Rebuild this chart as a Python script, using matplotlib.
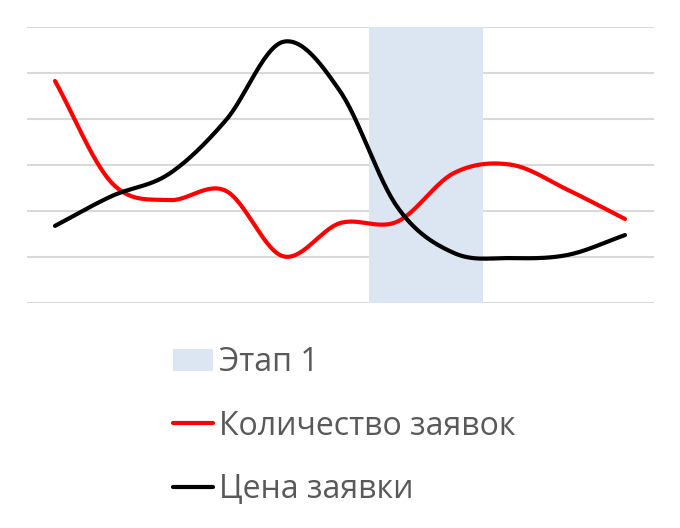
import numpy as np
import matplotlib
matplotlib.use("Agg")
import matplotlib.pyplot as plt

# Данные графика (11 периодов, ось без подписей)
periods = list(range(11))
kolichestvo = [4.82, 2.60, 2.23, 2.43, 1.01, 1.73, 1.76, 2.82, 3.00, 2.45, 1.82]
cena = [1.67, 2.32, 2.80, 3.97, 5.67, 4.60, 2.09, 1.08, 0.97, 1.04, 1.47]
etap1 = [0, 0, 0, 0, 0, 0, 6, 6, 0, 0, 0]
y_max = 6

labels = ["Этап 1", "Количество заявок", "Цена заявки"]


def sglazhivanie(x, y, n=30):
    """Сглаженная линия как в Excel (Catmull-Rom через все точки)."""
    x = np.asarray(x, float)
    y = np.asarray(y, float)
    px = np.concatenate([[2 * x[0] - x[1]], x, [2 * x[-1] - x[-2]]])
    py = np.concatenate([[2 * y[0] - y[1]], y, [2 * y[-1] - y[-2]]])
    xs, ys = [], []
    t = np.linspace(0, 1, n)
    for i in range(1, len(px) - 2):
        p0, p1, p2, p3 = py[i - 1], py[i], py[i + 1], py[i + 2]
        q0, q1, q2, q3 = px[i - 1], px[i], px[i + 1], px[i + 2]
        for (a0, a1, a2, a3, out) in ((q0, q1, q2, q3, xs), (p0, p1, p2, p3, ys)):
            out.extend(0.5 * ((2 * a1) + (-a0 + a2) * t
                              + (2 * a0 - 5 * a1 + 4 * a2 - a3) * t ** 2
                              + (-a0 + 3 * a1 - 3 * a2 + a3) * t ** 3))
    return np.array(xs), np.array(ys)


fig = plt.figure(figsize=(6.8, 5.28), dpi=100)
ax = fig.add_axes([26.5 / 680, 1 - 302.7 / 528, 627 / 680, 276 / 528])

bars = ax.bar(periods, etap1, width=1.0, color="#dce6f2", zorder=1, label=labels[0])

xr, yr = sglazhivanie(periods, kolichestvo)
line_r, = ax.plot(xr, yr, color="#ff0000", lw=3, solid_capstyle="round", zorder=3, label=labels[1])
xb, yb = sglazhivanie(periods, cena)
line_b, = ax.plot(xb, yb, color="#000000", lw=3, solid_capstyle="round", zorder=4, label=labels[2])

ax.set_xlim(-0.5, 10.5)
ax.set_ylim(0, y_max)
ax.set_yticks(range(0, y_max + 1))
ax.yaxis.grid(True, color="#d9d9d9", lw=1.5, zorder=0)
ax.set_axisbelow(True)
ax.tick_params(left=False, bottom=False, labelleft=False, labelbottom=False)
for s in ax.spines.values():
    s.set_visible(False)

leg = fig.legend(handles=[bars, line_r, line_b], labels=labels,
                 loc="upper left", bbox_to_anchor=(172.7 / 680, 1 - 346 / 528),
                 frameon=False, borderpad=0, borderaxespad=0,
                 prop={"family": "Open Sans", "size": 23},
                 handlelength=1.25, handletextpad=0.2, labelspacing=0.96)
for t in leg.get_texts():
    t.set_color("#595959")

fig.savefig("out.png", dpi=100)
